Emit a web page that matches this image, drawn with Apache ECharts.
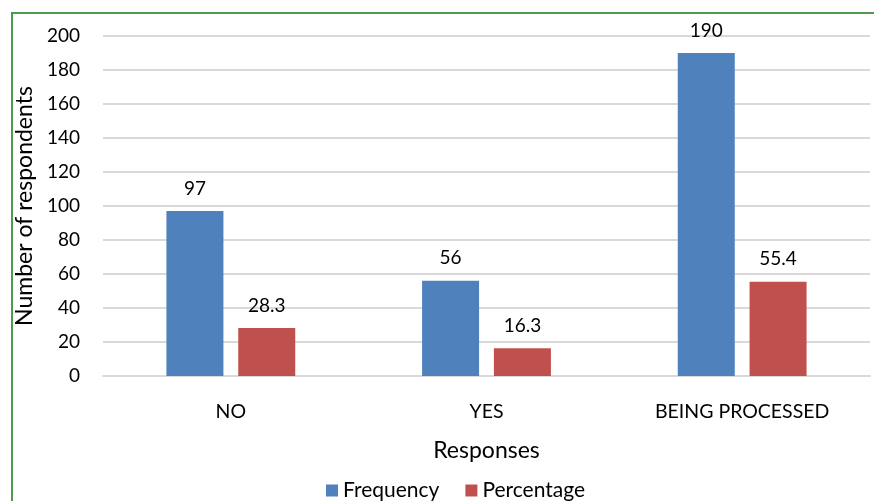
<!DOCTYPE html>
<html>
<head>
<meta charset="utf-8">
<script src="https://cdn.jsdelivr.net/npm/echarts@6/dist/echarts.min.js"></script>
<style>
  html, body { margin: 0; padding: 0; background: #fff; }
  #chart { width: 874px; height: 501px; }
</style>
</head>
<body>
<div id="chart"></div>
<script>
// Survey responses: counts and their share in percent
const categories = ['NO', 'YES', 'BEING PROCESSED'];
const frequency = [97, 56, 190];
const percentage = [28.3, 16.3, 55.4];
const yTicks = { min: 0, max: 200, interval: 20 };

const font = 'Lato, "Open Sans", "Liberation Sans", sans-serif';
const chart = echarts.init(document.getElementById('chart'));

const labelStyle = {
  show: true,
  position: 'top',
  distance: 13,
  color: '#000',
  fontFamily: font,
  fontSize: 19
};

chart.setOption({
  animation: false,
  backgroundColor: '#fff',
  graphic: [{
    type: 'rect',
    shape: { x: 12, y: 13, width: 900, height: 600 },
    style: { fill: 'none', stroke: '#4e9a4e', lineWidth: 2 },
    silent: true
  }],
  grid: { left: 103, right: 4, top: 36, bottom: 125 },
  legend: {
    bottom: -5,
    left: 321,
    itemWidth: 12,
    itemHeight: 12,
    itemGap: 26,
    icon: 'rect',
    textStyle: { color: '#000', fontFamily: font, fontSize: 21 },
    data: ['Frequency', 'Percentage']
  },
  xAxis: {
    type: 'category',
    data: categories,
    name: 'Responses',
    nameLocation: 'middle',
    nameGap: 63,
    nameTextStyle: { color: '#000', fontFamily: font, fontSize: 23 },
    axisLine: { lineStyle: { color: '#d9d9d9', width: 2 } },
    axisTick: { show: false },
    axisLabel: { color: '#000', fontFamily: font, fontSize: 19.5, margin: 26 }
  },
  yAxis: {
    type: 'value',
    min: yTicks.min,
    max: yTicks.max,
    interval: yTicks.interval,
    name: 'Number of respondents',
    nameLocation: 'middle',
    nameGap: 62,
    nameTextStyle: { color: '#000', fontFamily: font, fontSize: 23 },
    axisLine: { show: false },
    axisTick: { show: false },
    axisLabel: { color: '#000', fontFamily: font, fontSize: 19, margin: 23 },
    splitLine: { lineStyle: { color: '#d9d9d9', width: 2 } }
  },
  series: [
    {
      name: 'Frequency',
      type: 'bar',
      data: frequency,
      barWidth: 57,
      barGap: '26%',
      itemStyle: { color: '#4f81bd' },
      label: labelStyle
    },
    {
      name: 'Percentage',
      type: 'bar',
      data: percentage,
      barWidth: 57,
      barGap: '26%',
      itemStyle: { color: '#c0504d' },
      label: labelStyle
    }
  ]
});
</script>
</body>
</html>
